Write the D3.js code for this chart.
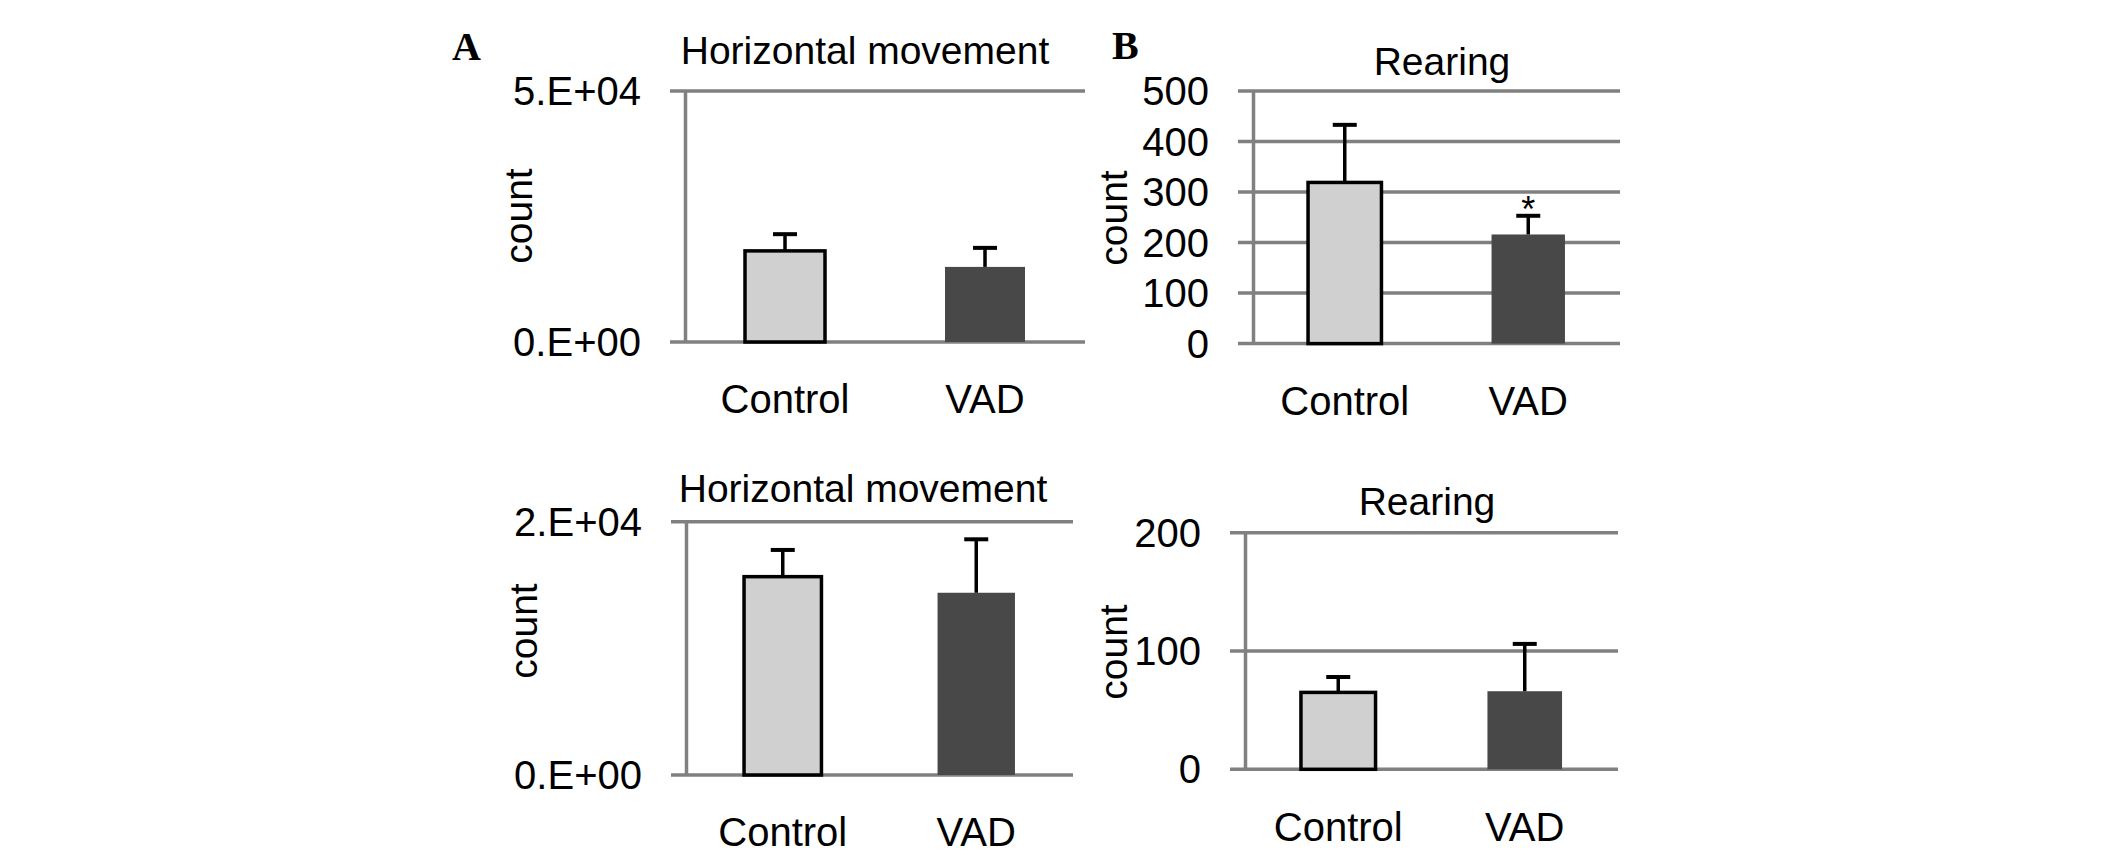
<!DOCTYPE html>
<html>
<head>
<meta charset="utf-8">
<script src="https://cdn.jsdelivr.net/npm/d3@7"></script>
<style>
  body { margin: 0; background: #fff; }
  svg { display: block; }
</style>
</head>
<body>
<div id="chart"></div>
<script>
// Categories
const groups = ["Control", "VAD"];

// Horizontal movement, upper panel
const hmTopMean = [18150, 14960];
const hmTopErr = [3330, 3790];
const hmTopTicks = [0, 50000];
const hmTopTickLabels = ["0.E+00", "5.E+04"];

// Rearing, upper panel
const rearTopMean = [319, 216];
const rearTopErr = [114, 37];
const rearTopTicks = [0, 100, 200, 300, 400, 500];
const rearTopTickLabels = ["0", "100", "200", "300", "400", "500"];
const rearTopSig = ["", "*"];

// Horizontal movement, lower panel
const hmBotMean = [15660, 14390];
const hmBotErr = [2110, 4220];
const hmBotTicks = [0, 20000];
const hmBotTickLabels = ["0.E+00", "2.E+04"];

// Rearing, lower panel
const rearBotMean = [65, 66];
const rearBotErr = [13, 40];
const rearBotTicks = [0, 100, 200];
const rearBotTickLabels = ["0", "100", "200"];

const barFill = ["#d0d0d0", "#484848"];
const barStroke = ["#000", "none"];
const gridColor = "#808080";
const font = "'Liberation Sans', Arial, sans-serif";

const width = 2126, height = 855;
const svg = d3.select("#chart").append("svg")
    .attr("width", width)
    .attr("height", height);

svg.append("rect").attr("width", width).attr("height", height).attr("fill", "#fff");

// Draw one bar panel
function drawPanel(p) {
    const g = svg.append("g");

    const y = d3.scaleLinear().domain([0, p.max]).range([p.yBot, p.yTop]);
    const x = d3.scaleBand().domain(groups).range([p.x0, p.x1])
        .paddingInner(0.6).paddingOuter(0.3);

    // gridlines (start a bit left of the axis, like Excel tick marks)
    g.append("g").selectAll("line")
        .data(p.ticks)
        .enter().append("line")
        .attr("x1", p.x0 - 15)
        .attr("x2", p.x1)
        .attr("y1", d => y(d))
        .attr("y2", d => y(d))
        .attr("stroke", gridColor)
        .attr("stroke-width", 3.5);

    // y axis
    const yAxis = g.append("g")
        .attr("transform", `translate(${p.x0},0)`)
        .call(d3.axisLeft(y)
            .tickValues(p.ticks)
            .tickFormat((d, i) => p.tickLabels[i])
            .tickSizeInner(0)
            .tickSizeOuter(0)
            .tickPadding(44));
    yAxis.select(".domain").attr("stroke", gridColor).attr("stroke-width", 3.5);
    yAxis.selectAll("text")
        .attr("font-family", font)
        .attr("font-size", 40)
        .attr("fill", "#000")
        .attr("dy", "0.34em");

    // x axis labels
    const xAxis = g.append("g")
        .attr("transform", `translate(0,${p.yBot})`)
        .call(d3.axisBottom(x).tickSize(0).tickPadding(43));
    xAxis.select(".domain").remove();
    xAxis.selectAll("text")
        .attr("font-family", font)
        .attr("font-size", 40)
        .attr("fill", "#000");

    // bars
    g.append("g").selectAll("rect")
        .data(groups)
        .enter().append("rect")
        .attr("x", d => x(d))
        .attr("width", x.bandwidth())
        .attr("y", (d, i) => y(p.mean[i]))
        .attr("height", (d, i) => y(0) - y(p.mean[i]))
        .attr("fill", (d, i) => barFill[i])
        .attr("stroke", (d, i) => barStroke[i])
        .attr("stroke-width", 3.5);

    // error bars (upper only)
    const err = g.append("g").selectAll("g")
        .data(groups)
        .enter().append("g");
    err.append("line")
        .attr("x1", d => x(d) + x.bandwidth() / 2)
        .attr("x2", d => x(d) + x.bandwidth() / 2)
        .attr("y1", (d, i) => y(p.mean[i]))
        .attr("y2", (d, i) => y(p.mean[i] + p.err[i]))
        .attr("stroke", "#000")
        .attr("stroke-width", 3.5);
    err.append("line")
        .attr("x1", d => x(d) + x.bandwidth() / 2 - 12)
        .attr("x2", d => x(d) + x.bandwidth() / 2 + 12)
        .attr("y1", (d, i) => y(p.mean[i] + p.err[i]))
        .attr("y2", (d, i) => y(p.mean[i] + p.err[i]))
        .attr("stroke", "#000")
        .attr("stroke-width", 4);

    // significance marks
    if (p.sig) {
        g.append("g").selectAll("text")
            .data(groups)
            .enter().append("text")
            .attr("x", d => x(d) + x.bandwidth() / 2)
            .attr("y", (d, i) => y(p.mean[i] + p.err[i]) + 6)
            .attr("text-anchor", "middle")
            .attr("font-family", font)
            .attr("font-size", 36)
            .text((d, i) => p.sig[i]);
    }

    // title
    g.append("text")
        .attr("x", p.titleX)
        .attr("y", p.titleY)
        .attr("text-anchor", "middle")
        .attr("font-family", font)
        .attr("font-size", 39)
        .text(p.title);

    // y axis label
    g.append("text")
        .attr("transform", `translate(${p.labelX},${p.labelY}) rotate(-90)`)
        .attr("text-anchor", "middle")
        .attr("font-family", font)
        .attr("font-size", 39)
        .text("count");
}

drawPanel({
    title: "Horizontal movement", titleX: 865, titleY: 64,
    mean: hmTopMean, err: hmTopErr, max: 50000,
    ticks: hmTopTicks, tickLabels: hmTopTickLabels,
    x0: 685, x1: 1085, yTop: 91, yBot: 342,
    labelX: 532, labelY: 216
});

drawPanel({
    title: "Rearing", titleX: 1442, titleY: 75,
    mean: rearTopMean, err: rearTopErr, max: 500, sig: rearTopSig,
    ticks: rearTopTicks, tickLabels: rearTopTickLabels,
    x0: 1253, x1: 1620, yTop: 91, yBot: 343.6,
    labelX: 1127, labelY: 218
});

drawPanel({
    title: "Horizontal movement", titleX: 863, titleY: 502,
    mean: hmBotMean, err: hmBotErr, max: 20000,
    ticks: hmBotTicks, tickLabels: hmBotTickLabels,
    x0: 686, x1: 1073, yTop: 521.7, yBot: 775,
    labelX: 537, labelY: 631
});

drawPanel({
    title: "Rearing", titleX: 1427, titleY: 515,
    mean: rearBotMean, err: rearBotErr, max: 200,
    ticks: rearBotTicks, tickLabels: rearBotTickLabels,
    x0: 1245, x1: 1618, yTop: 532.7, yBot: 769.3,
    labelX: 1127, labelY: 652
});

// panel letters
svg.append("text")
    .attr("x", 452).attr("y", 60)
    .attr("font-family", "'Liberation Serif', 'Times New Roman', serif")
    .attr("font-weight", "bold")
    .attr("font-size", 40)
    .text("A");
svg.append("text")
    .attr("x", 1112).attr("y", 59)
    .attr("font-family", "'Liberation Serif', 'Times New Roman', serif")
    .attr("font-weight", "bold")
    .attr("font-size", 40)
    .text("B");
</script>
</body>
</html>
